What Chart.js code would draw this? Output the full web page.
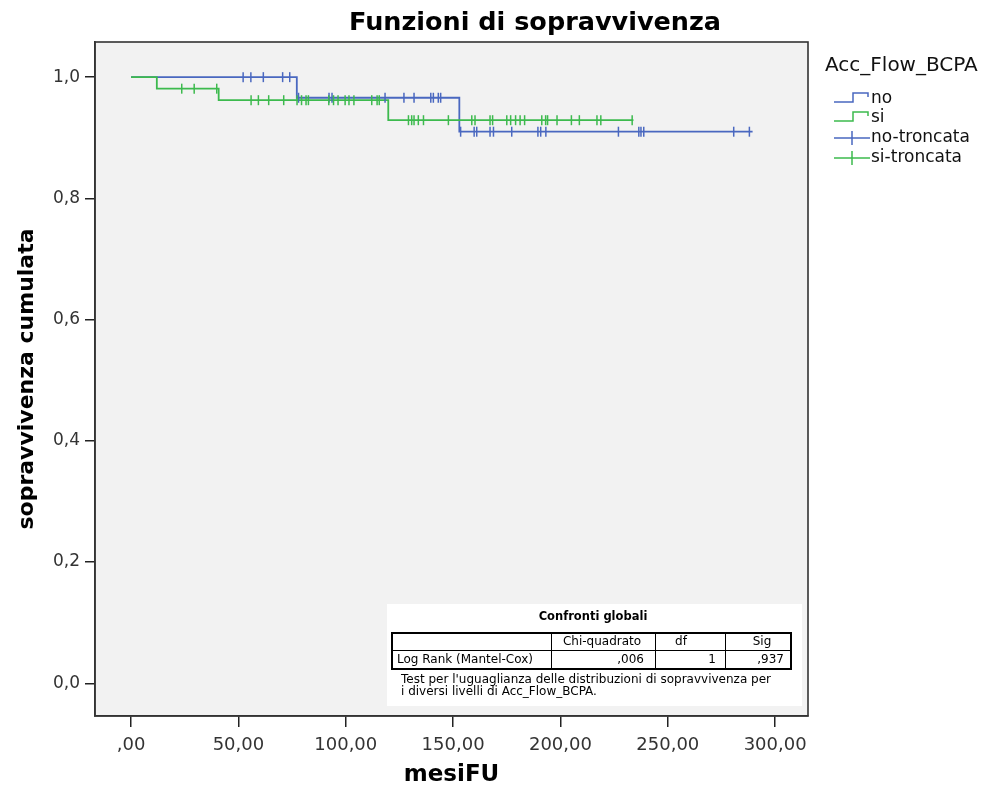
<!DOCTYPE html>
<html>
<head>
<meta charset="utf-8">
<script src="https://cdn.jsdelivr.net/npm/chart.js@4"></script>
<style>
  body { margin: 0; background: #ffffff; }
  #kmChart { display: block; }
</style>
</head>
<body>
<canvas id="kmChart" width="999" height="789"></canvas>
<script>
// curve steps (time in months, cumulative survival after the step)
const noTimes = [0, 77.2, 152.9, 289.5];
const noSurv = [1.0, 0.966, 0.910, 0.910];
const siTimes = [0, 12.0, 40.8, 119.8, 234.0];
const siSurv = [1.0, 0.981, 0.962, 0.929, 0.929];

// censored observations (months)
const noCensored = [52.2, 55.8, 61.6, 70.6, 73.9, 78.0, 92.2, 93.6, 118.3, 127.1, 131.8, 139.6, 140.8, 143.1, 144.2,
    153.5, 159.8, 161.0, 167.2, 168.8, 177.3, 189.5, 190.8, 193.2, 227.0, 236.5, 237.5, 238.8, 280.7, 288.0];
const siCensored = [23.6, 29.4, 39.9, 55.9, 59.3, 64.1, 71.1, 77.3, 79.4, 81.5, 82.6, 92.1, 94.3, 96.4, 99.7, 101.5,
    103.8, 112.1, 114.6, 115.6, 129.2, 130.7, 131.8, 133.8, 136.2, 147.8, 158.7, 160.2, 167.2, 168.4, 175.0, 176.8,
    179.1, 181.2, 183.3, 191.3, 193.1, 194.0, 198.4, 205.1, 208.8, 217.0, 218.8, 233.4];

const xTicks = [0, 50, 100, 150, 200, 250, 300];
const yTicks = [0, 0.2, 0.4, 0.6, 0.8, 1.0];

const legendTitle = 'Acc_Flow_BCPA';
const legendLabels = ['no', 'si', 'no-troncata', 'si-troncata'];

const tableTitle = 'Confronti globali';
const tableHeader = ['', 'Chi-quadrato', 'df', 'Sig'];
const tableRow = ['Log Rank (Mantel-Cox)', ',006', '1', ',937'];
const tableNote = ["Test per l'uguaglianza delle distribuzioni di sopravvivenza per", 'i diversi livelli di Acc_Flow_BCPA.'];

const blue = '#4a68c0';
const green = '#3dba4e';
const FONT = '"DejaVu Sans", sans-serif';

function stepPoints(times, surv) {
    return times.map(function (t, i) { return { x: t, y: surv[i] }; });
}

// survival level of the curve at time t (used to place censor ticks on the curve)
function levelAt(times, surv, t) {
    let s = surv[0];
    for (let i = 0; i < times.length; i++) {
        if (times[i] <= t) s = surv[i];
    }
    return s;
}

function censorPoints(censored, times, surv) {
    return censored.map(function (t) { return { x: t, y: levelAt(times, surv, t) }; });
}

function fmtX(v) {
    let s = v.toFixed(2).replace('.', ',');
    if (s.startsWith('0,')) s = s.substring(1);
    return s;
}

const decorPlugin = {
    id: 'decor',
    beforeDraw: function (chart) {
        const ctx = chart.ctx;
        const a = chart.chartArea;
        ctx.save();
        ctx.fillStyle = '#f2f2f2';
        ctx.fillRect(a.left, a.top, a.right - a.left, a.bottom - a.top);
        ctx.restore();
    },
    afterDraw: function (chart) {
        const ctx = chart.ctx;
        const a = chart.chartArea;
        ctx.save();

        // frame
        ctx.strokeStyle = '#333';
        ctx.lineWidth = 1.6;
        ctx.strokeRect(a.left, a.top, a.right - a.left, a.bottom - a.top);

        // main title
        ctx.fillStyle = '#000';
        ctx.font = 'bold 25.5px ' + FONT;
        ctx.textAlign = 'center';
        ctx.textBaseline = 'middle';
        ctx.fillText('Funzioni di sopravvivenza', 535, 23);

        // legend
        ctx.textAlign = 'left';
        ctx.font = '20px ' + FONT;
        ctx.fillStyle = '#111';
        ctx.fillText(legendTitle, 825, 66);
        ctx.font = '17px ' + FONT;
        const rowsY = [99, 118, 138, 158];
        const cols = [blue, green, blue, green];
        legendLabels.forEach(function (lab, i) {
            const y = rowsY[i];
            ctx.strokeStyle = cols[i];
            ctx.lineWidth = 1.5;
            ctx.beginPath();
            if (i < 2) {
                ctx.moveTo(834, y + 3);
                ctx.lineTo(853, y + 3);
                ctx.lineTo(853, y - 6);
                ctx.lineTo(868, y - 6);
                ctx.lineTo(868, y - 2);
            } else {
                ctx.moveTo(834, y);
                ctx.lineTo(870, y);
                ctx.moveTo(852, y - 7);
                ctx.lineTo(852, y + 7);
            }
            ctx.stroke();
            ctx.fillStyle = '#111';
            ctx.fillText(lab, 871, y);
        });

        // global comparisons table
        ctx.fillStyle = '#ffffff';
        ctx.fillRect(387, 604, 415, 102);
        ctx.fillStyle = '#000';
        ctx.font = 'bold 11.5px ' + FONT;
        ctx.textAlign = 'center';
        ctx.fillText(tableTitle, 593, 617);

        ctx.strokeStyle = '#000';
        ctx.lineWidth = 2;
        ctx.strokeRect(392, 633, 399, 36);
        ctx.lineWidth = 1;
        ctx.beginPath();
        ctx.moveTo(392, 650.5); ctx.lineTo(791, 650.5);
        [551.5, 655.5, 725.5].forEach(function (x) {
            ctx.moveTo(x, 633); ctx.lineTo(x, 669);
        });
        ctx.stroke();

        ctx.font = '12px ' + FONT;
        ctx.fillText(tableHeader[1], 602, 642);
        ctx.fillText(tableHeader[2], 681, 642);
        ctx.fillText(tableHeader[3], 762, 642);
        ctx.textAlign = 'left';
        ctx.fillText(tableRow[0], 397, 660);
        ctx.textAlign = 'right';
        ctx.fillText(tableRow[1], 644, 660);
        ctx.fillText(tableRow[2], 716, 660);
        ctx.fillText(tableRow[3], 784, 660);
        ctx.textAlign = 'left';
        ctx.fillText(tableNote[0], 401, 680);
        ctx.fillText(tableNote[1], 401, 692);

        ctx.restore();
    }
};

const ctx = document.getElementById('kmChart').getContext('2d');
const kmChart = new Chart(ctx, {
    type: 'scatter',
    data: {
        datasets: [
            {
                label: 'si',
                data: stepPoints(siTimes, siSurv),
                showLine: true,
                stepped: 'before',
                borderColor: green,
                borderWidth: 1.8,
                pointRadius: 0,
                order: 1
            },
            {
                label: 'no',
                data: stepPoints(noTimes, noSurv),
                showLine: true,
                stepped: 'before',
                borderColor: blue,
                borderWidth: 1.8,
                pointRadius: 0,
                order: 2
            },
            {
                label: 'si-troncata',
                data: censorPoints(siCensored, siTimes, siSurv),
                pointStyle: 'line',
                rotation: 90,
                pointRadius: 5,
                borderColor: green,
                borderWidth: 1.5,
                order: 0
            },
            {
                label: 'no-troncata',
                data: censorPoints(noCensored, noTimes, noSurv),
                pointStyle: 'line',
                rotation: 90,
                pointRadius: 5,
                borderColor: blue,
                borderWidth: 1.5,
                order: 0
            }
        ]
    },
    options: {
        responsive: false,
        animation: false,
        layout: { padding: { top: 42, right: 191, bottom: 0, left: 0 } },
        plugins: {
            legend: { display: false },
            tooltip: { enabled: false }
        },
        scales: {
            x: {
                type: 'linear',
                min: -16.8,
                max: 315.3,
                afterBuildTicks: function (s) { s.ticks = xTicks.map(function (v) { return { value: v }; }); },
                afterFit: function (s) { s.height = 73; },
                grid: { drawOnChartArea: false, drawTicks: true, tickLength: 11, color: '#222', lineWidth: 1.5 },
                border: { display: true, color: '#333', width: 1.6 },
                ticks: {
                    padding: 8,
                    color: '#333',
                    font: { family: FONT, size: 18 },
                    callback: function (v) { return fmtX(v); }
                },
                title: {
                    display: true,
                    text: 'mesiFU',
                    color: '#000',
                    font: { family: FONT, size: 23, weight: 'bold' },
                    padding: { top: 0, bottom: 0 }
                }
            },
            y: {
                min: -0.054,
                max: 1.058,
                afterBuildTicks: function (s) { s.ticks = yTicks.map(function (v) { return { value: v }; }); },
                afterFit: function (s) { s.width = 95; },
                grid: { drawOnChartArea: false, drawTicks: true, tickLength: 10, color: '#222', lineWidth: 1.5 },
                border: { display: true, color: '#333', width: 1.6 },
                ticks: {
                    padding: 5,
                    color: '#333',
                    font: { family: FONT, size: 17 },
                    callback: function (v) { return v.toFixed(1).replace('.', ','); }
                },
                title: {
                    display: true,
                    text: 'sopravvivenza cumulata',
                    color: '#000',
                    font: { family: FONT, size: 22, weight: 'bold' },
                    padding: { top: 14, bottom: 0 }
                }
            }
        }
    },
    plugins: [decorPlugin]
});
</script>
</body>
</html>
